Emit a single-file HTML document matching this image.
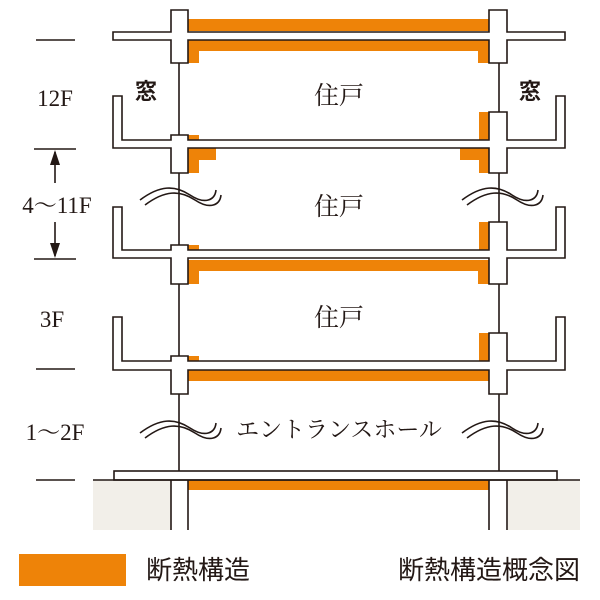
<!DOCTYPE html>
<html><head><meta charset="utf-8"><style>
body{margin:0;background:#fff}
svg{display:block}
.s{fill:#fff;stroke:#231815;stroke-width:1.6}
.o{fill:#ee8308}
.l{stroke:#231815;stroke-width:1.6;fill:none}
.t{font-family:"Liberation Serif","Noto Serif CJK SC",serif;fill:#231815}
.j{font-family:"Liberation Sans","Noto Sans CJK JP",sans-serif;fill:#231815}
</style></head><body>
<svg width="600" height="600" viewBox="0 0 600 600">
<!-- column lines -->
<line class="l" x1="179" y1="10" x2="179" y2="472"/>
<line class="l" x1="499" y1="10" x2="499" y2="472"/>
<!-- roof -->
<rect class="o" x="188" y="19" width="301" height="12"/>
<path class="o" d="M188 40H489V63H478V51H199V63H188Z"/>
<path class="s" d="M113 32H171V10H188V32H489V10H507V32H565V40H507V63H489V40H188V63H171V40H113Z"/>
<!-- floor slab 12F/11F -->
<rect class="o" x="188" y="135" width="11" height="5"/>
<rect class="o" x="479" y="112" width="10" height="28"/>
<path class="o" d="M188 148H216V160H199V173H188Z"/>
<path class="o" d="M489 148H460V160H479V173H489Z"/>
<path class="s" d="M113 96H122V140H171V135H188V140H489V112H507V140H556V96H565V148H507V173H489V148H188V173H171V148H113Z"/>
<!-- floor slab 4F/3F -->
<rect class="o" x="188" y="245" width="11" height="5"/>
<rect class="o" x="479" y="222" width="10" height="28"/>
<path class="o" d="M188 260H489V284H478V271H199V284H188Z"/>
<path class="s" d="M113 207H122V250H171V245H188V250H489V222H507V250H556V207H565V258H507V284H489V258H188V284H171V258H113Z"/>
<!-- floor slab 3F/2F -->
<rect class="o" x="188" y="356" width="11" height="5"/>
<rect class="o" x="479" y="333" width="10" height="28"/>
<rect class="o" x="188" y="370" width="301" height="11"/>
<path class="s" d="M113 317H122V361H171V356H188V361H489V333H507V361H556V317H565V370H507V394H489V370H188V394H171V370H113Z"/>
<!-- ground -->
<rect x="93" y="480" width="78" height="50" fill="#f2efe9"/>
<rect x="508" y="480" width="72" height="50" fill="#f2efe9"/>
<rect class="o" x="188" y="480" width="301" height="10"/>
<rect class="s" x="114" y="471" width="443" height="9"/>
<line class="l" x1="93" y1="480" x2="580" y2="480"/>
<line class="l" x1="171" y1="480" x2="171" y2="530"/>
<line class="l" x1="188" y1="480" x2="188" y2="530"/>
<line class="l" x1="489" y1="480" x2="489" y2="530"/>
<line class="l" x1="507" y1="480" x2="507" y2="530"/>
<!-- waves -->
<g class="l" stroke-width="1.3">
<path d="M140 200C160 185 175 185 190 195S215 200 216 190"/>
<path d="M145 205C165 190 180 190 195 200S220 205 221 195"/>
<path d="M462 200C482 185 497 185 512 195S537 200 538 190"/>
<path d="M467 205C487 190 502 190 517 200S542 205 543 195"/>
<path d="M140 433C160 418 175 418 190 428S215 433 216 423"/>
<path d="M145 438C165 423 180 423 195 433S220 438 221 428"/>
<path d="M462 433C482 418 497 418 512 428S537 433 538 423"/>
<path d="M467 438C487 423 502 423 517 433S542 438 543 428"/>
</g>
<!-- left scale -->
<g class="l">
<line x1="36" y1="40" x2="75" y2="40"/>
<line x1="34" y1="149" x2="76" y2="149"/>
<line x1="34" y1="259" x2="76" y2="259"/>
<line x1="36" y1="369" x2="75" y2="369"/>
<line x1="36" y1="480" x2="75" y2="480"/>
<line x1="55" y1="152" x2="55" y2="183"/>
<line x1="55" y1="222" x2="55" y2="256"/>
</g>
<path d="M55 150L50 165H60Z M55 258L50 243H60Z" fill="#231815"/>
<text class="t" x="55" y="106" font-size="23" text-anchor="middle">12F</text>
<text class="t" x="57" y="213" font-size="23" text-anchor="middle">4～11F</text>
<text class="t" x="52" y="327" font-size="23" text-anchor="middle">3F</text>
<text class="t" x="55" y="440" font-size="23" text-anchor="middle">1～2F</text>
<!-- labels -->
<text class="j" x="146" y="99" font-size="22" text-anchor="middle" font-weight="bold">窓</text>
<text class="j" x="530" y="99" font-size="22" text-anchor="middle" font-weight="bold">窓</text>
<text class="t" x="339" y="104" font-size="25" text-anchor="middle">住戸</text>
<text class="t" x="339" y="215" font-size="25" text-anchor="middle">住戸</text>
<text class="t" x="339" y="326" font-size="25" text-anchor="middle">住戸</text>
<text class="t" x="339" y="437" font-size="23" text-anchor="middle">エントランスホール</text>
<!-- legend -->
<rect class="o" x="19" y="554" width="107" height="32"/>
<text class="j" x="146" y="579" font-size="26">断熱構造</text>
<text class="j" x="580" y="579" font-size="26" text-anchor="end">断熱構造概念図</text>
</svg>
</body></html>
